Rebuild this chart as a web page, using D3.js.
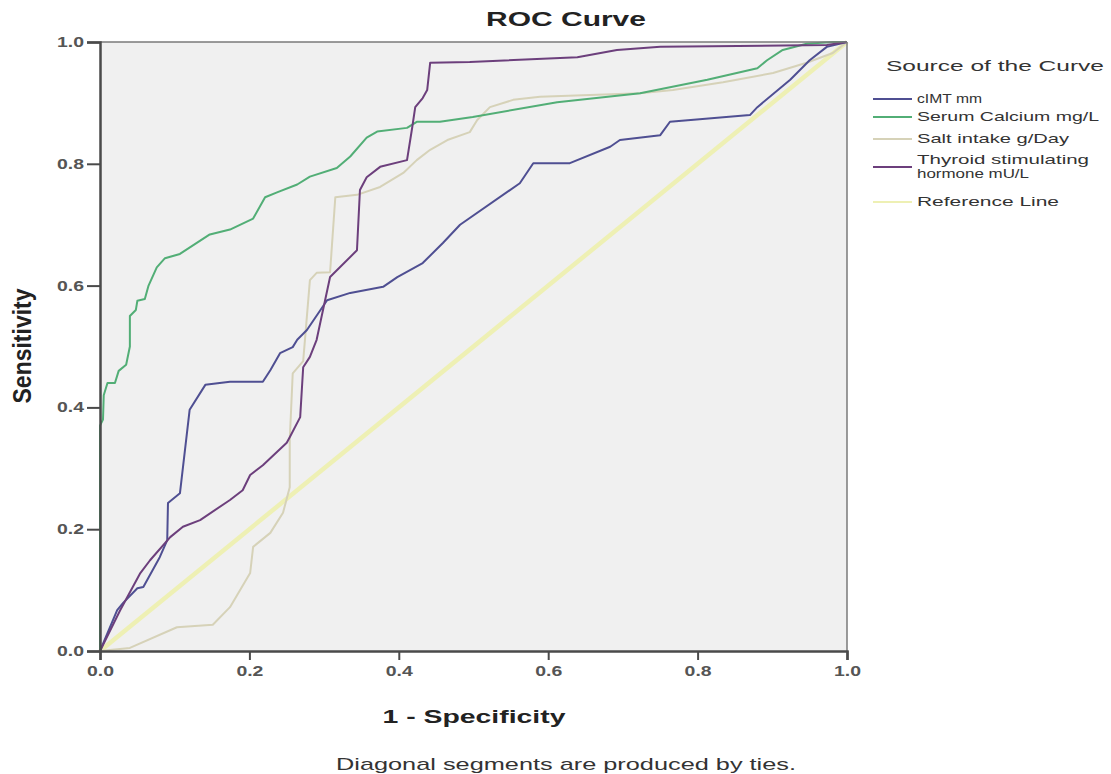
<!DOCTYPE html>
<html>
<head>
<meta charset="utf-8">
<script src="https://cdn.jsdelivr.net/npm/d3@7"></script>
<style>
  html, body { margin: 0; padding: 0; background: #ffffff; }
  svg { display: block; font-family: "Liberation Sans", Arial, sans-serif; }
</style>
</head>
<body>
<svg id="chart" width="1111" height="774"></svg>
<script>
// ---- Data (1 - specificity, sensitivity) ----
const seriesNames = ["cIMT mm", "Serum Calcium mg/L", "Salt intake g/Day", "Thyroid stimulating hormone mU/L", "Reference Line"];

const cimtFpr = [0, 0.023, 0.031, 0.05, 0.058, 0.08, 0.09, 0.091, 0.107, 0.12, 0.141, 0.174, 0.218, 0.228, 0.241, 0.258, 0.264, 0.277, 0.304, 0.335, 0.379, 0.398, 0.432, 0.459, 0.482, 0.562, 0.58, 0.629, 0.683, 0.696, 0.75, 0.763, 0.87, 0.88, 0.924, 0.95, 0.973, 1];
const cimtTpr = [0, 0.067, 0.079, 0.103, 0.105, 0.154, 0.182, 0.243, 0.259, 0.396, 0.437, 0.442, 0.442, 0.461, 0.489, 0.499, 0.511, 0.527, 0.576, 0.588, 0.598, 0.614, 0.637, 0.67, 0.7, 0.768, 0.801, 0.801, 0.828, 0.839, 0.847, 0.869, 0.88, 0.893, 0.938, 0.97, 0.992, 1];

const calciumFpr = [0, 0, 0.004, 0.005, 0.01, 0.02, 0.025, 0.035, 0.04, 0.04, 0.048, 0.05, 0.06, 0.065, 0.076, 0.087, 0.107, 0.147, 0.174, 0.205, 0.221, 0.237, 0.264, 0.281, 0.317, 0.335, 0.357, 0.371, 0.411, 0.424, 0.455, 0.499, 0.612, 0.723, 0.813, 0.88, 0.893, 0.914, 0.946, 0.981, 1];
const calciumTpr = [0, 0.37, 0.38, 0.42, 0.44, 0.44, 0.46, 0.47, 0.5, 0.55, 0.56, 0.575, 0.578, 0.6, 0.63, 0.645, 0.652, 0.684, 0.692, 0.71, 0.745, 0.753, 0.766, 0.779, 0.793, 0.812, 0.843, 0.853, 0.859, 0.869, 0.869, 0.877, 0.901, 0.916, 0.938, 0.957, 0.97, 0.987, 0.997, 1, 1];

const saltFpr = [0, 0.04, 0.103, 0.151, 0.174, 0.201, 0.205, 0.228, 0.245, 0.254, 0.254, 0.258, 0.272, 0.281, 0.29, 0.308, 0.315, 0.344, 0.375, 0.406, 0.424, 0.442, 0.465, 0.495, 0.505, 0.522, 0.553, 0.589, 0.723, 0.767, 0.834, 0.901, 0.946, 0.981, 1];
const saltTpr = [0, 0.005, 0.039, 0.043, 0.072, 0.128, 0.171, 0.194, 0.227, 0.269, 0.346, 0.456, 0.476, 0.609, 0.621, 0.622, 0.745, 0.749, 0.762, 0.785, 0.806, 0.823, 0.839, 0.852, 0.872, 0.893, 0.905, 0.91, 0.916, 0.921, 0.934, 0.949, 0.966, 0.982, 1];

const tshFpr = [0, 0.027, 0.054, 0.067, 0.094, 0.111, 0.134, 0.174, 0.191, 0.201, 0.218, 0.25, 0.254, 0.268, 0.272, 0.281, 0.29, 0.308, 0.344, 0.348, 0.357, 0.375, 0.411, 0.418, 0.422, 0.432, 0.438, 0.442, 0.495, 0.639, 0.692, 0.75, 0.973, 1];
const tshTpr = [0, 0.067, 0.128, 0.149, 0.187, 0.204, 0.215, 0.248, 0.264, 0.289, 0.305, 0.342, 0.351, 0.384, 0.466, 0.483, 0.511, 0.614, 0.658, 0.757, 0.778, 0.795, 0.806, 0.86, 0.893, 0.908, 0.921, 0.966, 0.967, 0.975, 0.987, 0.992, 0.995, 1];

const refFpr = [0, 1];
const refTpr = [0, 1];

const tickValues = [0, 0.2, 0.4, 0.6, 0.8, 1.0];

// ---- Layout ----
const svg = d3.select("#chart");
const L = 100, R = 847, T = 42, B = 651;
const x = d3.scaleLinear().domain([0, 1]).range([L, R]);
const y = d3.scaleLinear().domain([0, 1]).range([B, T]);

svg.append("rect").attr("width", 1111).attr("height", 774).attr("fill", "#ffffff");
svg.append("rect").attr("x", L).attr("y", T).attr("width", R - L).attr("height", B - T).attr("fill", "#f0f0f0");

const zip = (a, b) => a.map((v, i) => [v, b[i]]);
const line = d3.line().x(d => x(d[0])).y(d => y(d[1]));

const series = [
  { name: seriesNames[4], data: zip(refFpr, refTpr), color: "#eef0b4", width: 4.5 },
  { name: seriesNames[2], data: zip(saltFpr, saltTpr), color: "#d6d2b8", width: 2 },
  { name: seriesNames[0], data: zip(cimtFpr, cimtTpr), color: "#4f4f92", width: 2 },
  { name: seriesNames[1], data: zip(calciumFpr, calciumTpr), color: "#52ae76", width: 2 },
  { name: seriesNames[3], data: zip(tshFpr, tshTpr), color: "#6c3f7c", width: 2 }
];

const plot = svg.append("g");
series.forEach(s => {
  plot.append("path").datum(s.data).attr("d", line)
    .attr("fill", "none").attr("stroke", s.color).attr("stroke-width", s.width)
    .attr("stroke-linejoin", "round");
});

// frame top/right
svg.append("line").attr("x1", L).attr("x2", R).attr("y1", T).attr("y2", T).attr("stroke", "#7a7a7a").attr("stroke-width", 1.5);
svg.append("line").attr("x1", R).attr("x2", R).attr("y1", T).attr("y2", B).attr("stroke", "#7a7a7a").attr("stroke-width", 1.5);

// axes
const fmt = d3.format(".1f");
const xAxis = svg.append("g").attr("transform", `translate(0,${B})`)
  .call(d3.axisBottom(x).tickValues(tickValues).tickFormat(fmt).tickSize(9).tickPadding(6));
const yAxis = svg.append("g").attr("transform", `translate(${L},0)`)
  .call(d3.axisLeft(y).tickValues(tickValues).tickFormat(fmt).tickSize(13).tickPadding(3));
[xAxis, yAxis].forEach(a => {
  a.select(".domain").attr("stroke", "#4a4a4a").attr("stroke-width", 2.5);
  a.selectAll(".tick line").attr("stroke", "#4a4a4a").attr("stroke-width", 2);
  a.selectAll(".tick text").attr("fill", "#555").attr("font-size", 14).attr("font-weight", "bold")
    .attr("font-family", "'Liberation Sans', Arial, sans-serif")
    .attr("textLength", 27).attr("lengthAdjust", "spacingAndGlyphs");
});

// titles
function stretchText(g, txt, cx, cy, size, weight, width, anchor) {
  return g.append("text").attr("x", cx).attr("y", cy).text(txt)
    .attr("font-size", size).attr("font-weight", weight).attr("fill", "#222")
    .attr("text-anchor", anchor || "middle")
    .attr("textLength", width).attr("lengthAdjust", "spacingAndGlyphs");
}
stretchText(svg, "ROC Curve", 566, 26, 20, "bold", 160);
stretchText(svg, "1 - Specificity", 474, 723, 19, "bold", 183);
stretchText(svg, "Diagonal segments are produced by ties.", 566, 770, 17, "normal", 460).attr("fill", "#333");
svg.append("text").attr("transform", "translate(31,346) scale(1.35,1) rotate(-90)")
  .attr("text-anchor", "middle").attr("font-size", 19).attr("font-weight", "bold").attr("fill", "#222")
  .attr("textLength", 115).attr("lengthAdjust", "spacingAndGlyphs").text("Sensitivity");

// legend
const lg = svg.append("g");
stretchText(lg, "Source of the Curve", 886, 71, 15, "normal", 218, "start").attr("fill", "#333");
const legendItems = [
  { lines: ["cIMT mm"], ys: [103], lineY: 99, color: "#4f4f92", widths: [65] },
  { lines: ["Serum Calcium mg/L"], ys: [121], lineY: 117, color: "#52ae76", widths: [182] },
  { lines: ["Salt intake g/Day"], ys: [143], lineY: 139, color: "#d6d2b8", widths: [152] },
  { lines: ["Thyroid stimulating", "hormone mU/L"], ys: [164, 178], lineY: 167, color: "#6c3f7c", widths: [172, 112] },
  { lines: ["Reference Line"], ys: [206], lineY: 202, color: "#eef0b4", widths: [142] }
];
legendItems.forEach(it => {
  lg.append("line").attr("x1", 873).attr("x2", 912).attr("y1", it.lineY).attr("y2", it.lineY)
    .attr("stroke", it.color).attr("stroke-width", 2);
  it.lines.forEach((t, i) => {
    stretchText(lg, t, 917, it.ys[i], 13, "normal", it.widths[i], "start").attr("fill", "#333");
  });
});
</script>
</body>
</html>
